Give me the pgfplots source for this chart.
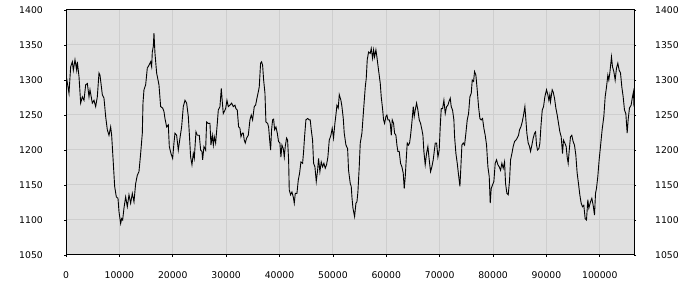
\documentclass[border=0pt]{standalone}
\usepackage{fontspec}
\setmainfont{DejaVu Sans}
\usepackage{pgfplots}
\pgfplotsset{compat=1.18}
\definecolor{bgc}{RGB}{224,224,224}
\definecolor{gridc}{RGB}{206,206,206}
\begin{document}
\begin{tikzpicture}
\useasboundingbox (0,0) rectangle (700bp,300bp);
\begin{axis}[
  at={(66bp,45bp)}, anchor=south west,
  scale only axis, width=568bp, height=245bp,
  xmin=0, xmax=106400, ymin=1050, ymax=1400,
  scaled x ticks=false, scaled y ticks=false,
  xtick={0,10000,20000,30000,40000,50000,60000,70000,80000,90000,100000},
  xticklabels={0,10000,20000,30000,40000,50000,60000,70000,80000,90000,100000},
  ytick={1050,1100,1150,1200,1250,1300,1350,1400},
  yticklabels={1050,1100,1150,1200,1250,1300,1350,1400},
  minor tick num=0,
  tick label style={font=\fontsize{9.3}{11}\selectfont, inner sep=0pt},
  yticklabel style={xshift=-21bp},
  xticklabel style={yshift=-14bp},
  axis background/.style={fill=bgc},
  grid=major, grid style={gridc, line width=1bp},
  tick align=outside, major tick length=2bp,
  xtick pos=bottom, ytick pos=both, yticklabel pos=left,
  axis line style={line width=1bp},
  tick style={black, line width=0.8bp},
]
\addplot[black, line width=0.9bp] coordinates {
(0,1302)(125,1302)(560,1281)(874,1319)(1186,1326)(1373,1314)(1685,1329)(1998,1314)(2122,1326)(2434,1305)(2747,1267)(3059,1276)(3371,1271)(3683,1293)(3995,1295)(4307,1276)(4494,1286)(4931,1267)(5243,1271)(5556,1262)(5868,1276)(6180,1310)(6367,1307)(6804,1279)(7116,1274)(7428,1248)(7740,1229)(8052,1221)(8365,1233)(8552,1221)(8864,1181)(9114,1148)(9426,1133)(9738,1131)(9925,1112)(10237,1095)(10424,1102)(10612,1100)(10861,1117)(11174,1133)(11486,1119)(11798,1136)(12110,1124)(12422,1138)(12734,1126)(13046,1152)(13358,1164)(13670,1169)(13983,1195)(14295,1224)(14420,1267)(14607,1286)(14919,1293)(15231,1317)(15543,1321)(15855,1326)(16043,1319)(16167,1340)(16355,1348)(16479,1367)(16667,1338)(16979,1310)(17416,1293)(17728,1262)
(18102,1260)(18352,1255)(18539,1245)(18851,1233)(19164,1236)(19351,1205)(19663,1195)(19975,1188)(20225,1210)(20412,1224)(20724,1221)(21036,1200)(21348,1217)(21660,1233)(21973,1262)(22285,1271)(22597,1267)(22909,1248)(23097,1224)(23346,1190)(23596,1179)(23845,1195)(24033,1188)(24345,1226)(24594,1221)(24969,1221)(25218,1200)(25468,1198)(25593,1186)(25843,1205)(26155,1200)(26342,1240)(26654,1238)(26966,1238)(27154,1207)(27403,1221)(27603,1207)(27778,1219)(28028,1210)(28340,1238)(28527,1257)(28839,1262)(29089,1288)(29276,1269)(29463,1252)(29651,1255)(29900,1259)(30150,1271)(30400,1262)(30712,1264)(31024,1267)(31336,1262)(31648,1264)(31835,1259)(32085,1257)(32335,1233)(32584,1231)(32772,1219)(33021,1224)(33208,1224)(33396,1214)(33583,1210)(33833,1217)(34145,1221)(34457,1243)(34707,1250)(34956,1243)(35268,1262)(35518,1264)
(35770,1274)(36020,1283)(36200,1290)(36450,1324)(36640,1326)(36830,1321)(37020,1300)(37270,1281)(37450,1240)(37770,1238)(37950,1233)(38200,1210)(38330,1200)(38510,1229)(38700,1243)(38890,1244)(39080,1229)(39330,1233)(39580,1224)(39820,1212)(40070,1210)(40260,1190)(40450,1207)(40700,1202)(40890,1190)(41070,1205)(41320,1217)(41510,1214)(41700,1186)(41820,1143)(42070,1136)(42320,1140)(42570,1133)(42760,1124)(42950,1138)(43260,1138)(43510,1157)(43760,1167)(44010,1183)(44320,1181)(44510,1198)(44690,1219)(44940,1243)(45260,1245)(45570,1243)(45750,1243)(45940,1229)(46190,1214)(46380,1181)(46630,1176)(46880,1155)(47130,1171)(47310,1188)(47560,1169)(47810,1183)(48060,1176)(48310,1181)(48560,1174)(48810,1179)(49060,1190)(49310,1214)(49620,1221)(49870,1231)(50120,1217)(50370,1238)(50560,1250)(50750,1264)(51000,1260)(51190,1279)(51500,1271)(51690,1262)(51940,1245)(52120,1224)(52440,1207)(52750,1202)(52930,1171)(53250,1152)(53430,1148)
(53560,1133)(53750,1117)(54060,1105)(54310,1124)(54500,1126)(54680,1140)(54930,1176)(55120,1210)(55430,1224)(55740,1257)(56060,1290)(56240,1302)(56430,1329)(56680,1340)(56990,1338)(57180,1345)(57430,1331)(57620,1343)(57800,1333)(58050,1343)(58240,1333)(58550,1314)(58870,1295)(59050,1276)(59300,1259)(59490,1243)(59680,1238)(59930,1248)(60110,1250)(60300,1243)(60550,1243)(60740,1238)(60930,1221)(61110,1243)(61360,1238)(61550,1224)(61800,1221)(61990,1207)(62170,1198)(62420,1198)(62670,1181)(62920,1176)(63170,1167)(63360,1145)(63550,1162)(63730,1186)(63920,1210)(64170,1207)(64360,1210)(64550,1221)(64800,1240)(65050,1262)(65230,1248)(65420,1257)(65670,1267)(65920,1257)(66170,1243)(66420,1238)(66670,1229)(66860,1221)(67040,1198)(67290,1179)(67540,1195)(67790,1205)(68040,1186)(68290,1169)(68540,1176)(68790,1186)(68980,1198)(69170,1210)(69420,1210)(69670,1190)(69910,1200)(70100,1233)(70290,1259)(70540,1259)(70790,1271)(71040,1252)(71290,1262)
(71540,1264)(71730,1269)(71980,1274)(72160,1262)(72410,1257)(72660,1243)(72790,1219)(73040,1195)(73290,1181)(73540,1164)(73790,1148)(73970,1176)(74160,1207)(74410,1210)(74660,1207)(74910,1224)(75160,1243)(75410,1252)(75660,1276)(75910,1281)(76100,1300)(76350,1298)(76530,1312)(76780,1307)(77030,1286)(77280,1262)(77530,1245)(77780,1243)(78030,1245)(78280,1231)(78530,1221)(78780,1207)(79030,1176)(79280,1162)(79470,1124)(79650,1145)(79900,1150)(80150,1155)(80400,1181)(80650,1186)(80900,1179)(81150,1176)(81400,1171)(81650,1181)(81900,1174)(82150,1183)(82340,1152)(82590,1138)(82840,1136)(83090,1157)(83280,1186)(83530,1195)(83770,1205)(84020,1212)(84270,1214)(84520,1217)(84770,1221)(84960,1229)(85210,1233)(85460,1240)(85710,1250)(85960,1262)(86150,1243)(86330,1224)(86580,1210)(86830,1205)(87020,1198)(87270,1207)(87520,1217)(87770,1224)(87960,1226)(88140,1207)(88330,1200)(88580,1202)(88770,1210)(88960,1233)(89210,1257)(89460,1262)
(89700,1276)(90010,1286)(90260,1279)(90450,1271)(90630,1279)(90760,1269)(91070,1286)(91260,1283)(91510,1274)(91760,1260)(92010,1250)(92260,1238)(92510,1226)(92760,1219)(93010,1195)(93190,1214)(93440,1210)(93690,1205)(93880,1190)(94070,1181)(94250,1198)(94500,1219)(94750,1221)(95000,1212)(95250,1207)(95500,1193)(95750,1167)(96000,1152)(96250,1136)(96500,1124)(96750,1119)(97000,1121)(97250,1102)(97500,1100)(97750,1129)(97940,1117)(98250,1126)(98500,1131)(98750,1121)(99000,1107)(99190,1138)(99370,1145)(99620,1162)(99870,1186)(100120,1205)(100430,1229)(100750,1248)(101000,1276)(101250,1290)(101500,1307)(101680,1300)(101870,1310)(102180,1333)(102370,1319)(102620,1312)(102870,1300)(103120,1317)(103370,1324)(103620,1314)(103870,1310)(104120,1290)(104370,1276)(104620,1257)(104870,1252)(105120,1224)(105300,1243)(105550,1260)(105860,1264)(106110,1276)(106300,1283)(106400,1262)
};
\end{axis}
\begin{axis}[
  at={(66bp,45bp)}, anchor=south west,
  scale only axis, width=568bp, height=245bp,
  xmin=0, xmax=106400, ymin=1050, ymax=1400,
  hide x axis,
  ytick={1050,1100,1150,1200,1250,1300,1350,1400},
  yticklabels={1050,1100,1150,1200,1250,1300,1350,1400},
  tick label style={font=\fontsize{9.3}{11}\selectfont, inner sep=0pt},
  yticklabel style={xshift=19bp},
  ytick pos=right, yticklabel pos=right,
  tick align=outside, major tick length=2bp,
  axis line style={line width=1bp},
  tick style={black, line width=0.8bp},
]
\end{axis}
\end{tikzpicture}
\end{document}
